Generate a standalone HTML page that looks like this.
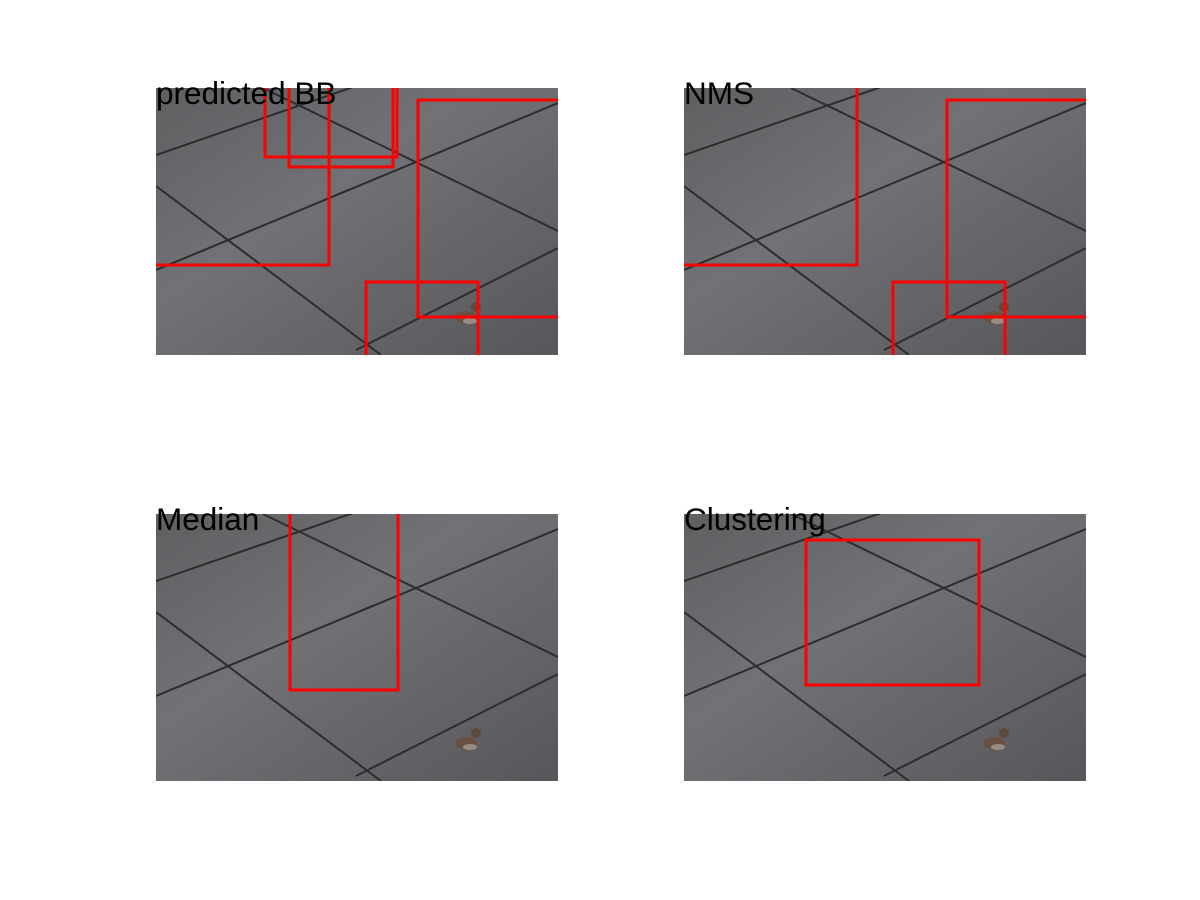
<!DOCTYPE html>
<html><head><meta charset="utf-8"><style>
html,body{margin:0;padding:0;background:#fff;}
svg{display:block;}
text{font-family:"Liberation Sans",sans-serif;}
</style></head><body>
<svg id="fig" width="1200" height="900" viewBox="0 0 1200 900" xmlns="http://www.w3.org/2000/svg">
<defs>
<linearGradient id="bg" x1="0" y1="0" x2="1" y2="1">
<stop offset="0" stop-color="#5e5f61"/><stop offset="0.4" stop-color="#717275"/><stop offset="1" stop-color="#55575a"/>
</linearGradient>
</defs>
</svg>
<script>
// panel titles
const titles = ["predicted BB", "NMS", "Median", "Clustering"];
// panel origins (column, row)
const panelCols = [0, 1, 0, 1];
const panelRows = [0, 0, 1, 1];
// boxes per panel in image pixel coords [x1,y1,x2,y2] (image 402x267)
const boxesPred = [[-20,-20,173,177],[109,-20,241,69],[133,-20,237,79],[137,-20,239,-10],[262,12,430,229],[210,194,322,300]];
const boxesNMS = [[-20,-20,173,177],[263,12,430,229],[209,194,321,300]];
const boxesMedian = [[134,-20,242,176]];
const boxesCluster = [[122,26,295,171]];
const allBoxes = [boxesPred, boxesNMS, boxesMedian, boxesCluster];

const NS = "http://www.w3.org/2000/svg";
const svg = document.getElementById("fig");
const W = 402, H = 267;
const colX = c => 156 + c * 528;
const rowY = r => 88 + r * 426;
function mk(tag, attrs, parent){const e=document.createElementNS(NS,tag);for(const k in attrs)e.setAttribute(k,attrs[k]);parent.appendChild(e);return e;}

titles.forEach((t, i) => {
  const x0 = colX(panelCols[i]), y0 = rowY(panelRows[i]);
  const g = mk("g", {transform:`translate(${x0},${y0})`}, svg);
  
  
  const cp = mk("clipPath", {id:"cp"+i}, g);
  mk("rect", {x:0,y:0,width:W,height:H}, cp);
  const img = mk("g", {"clip-path":`url(#cp${i})`}, g);
  
  
  mk("rect", {x:0,y:0,width:W,height:H,fill:"url(#bg)"}, img);
  const joints = [[0,67,200,-2],[0,182,402,15],[200,262,402,160],[107,0,402,143],[0,98,225,267]];
  joints.forEach(j => mk("line", {x1:j[0],y1:j[1],x2:j[2],y2:j[3],stroke:"#2c2d2e","stroke-width":2}, img));
  // sparrow
  const b = mk("g", {}, img);
  
  
  mk("ellipse", {cx:310,cy:229,rx:11,ry:6,fill:"#6a5040"}, b);
  mk("circle", {cx:320,cy:219,r:5,fill:"#5e4838"}, b);
  mk("ellipse", {cx:314,cy:233,rx:7,ry:3,fill:"#9a8c80"}, b);
  allBoxes[i].forEach(bx => {
    const r = mk("rect", {x:bx[0],y:bx[1],width:bx[2]-bx[0],height:bx[3]-bx[1],fill:"none",stroke:"#ff0000","stroke-width":3}, img);
    
    
  });
  const tx = mk("text", {x:0,y:16,"font-size":31.5,fill:"#000"}, g);
  tx.textContent = t;
  
  
});
</script>
</body></html>
